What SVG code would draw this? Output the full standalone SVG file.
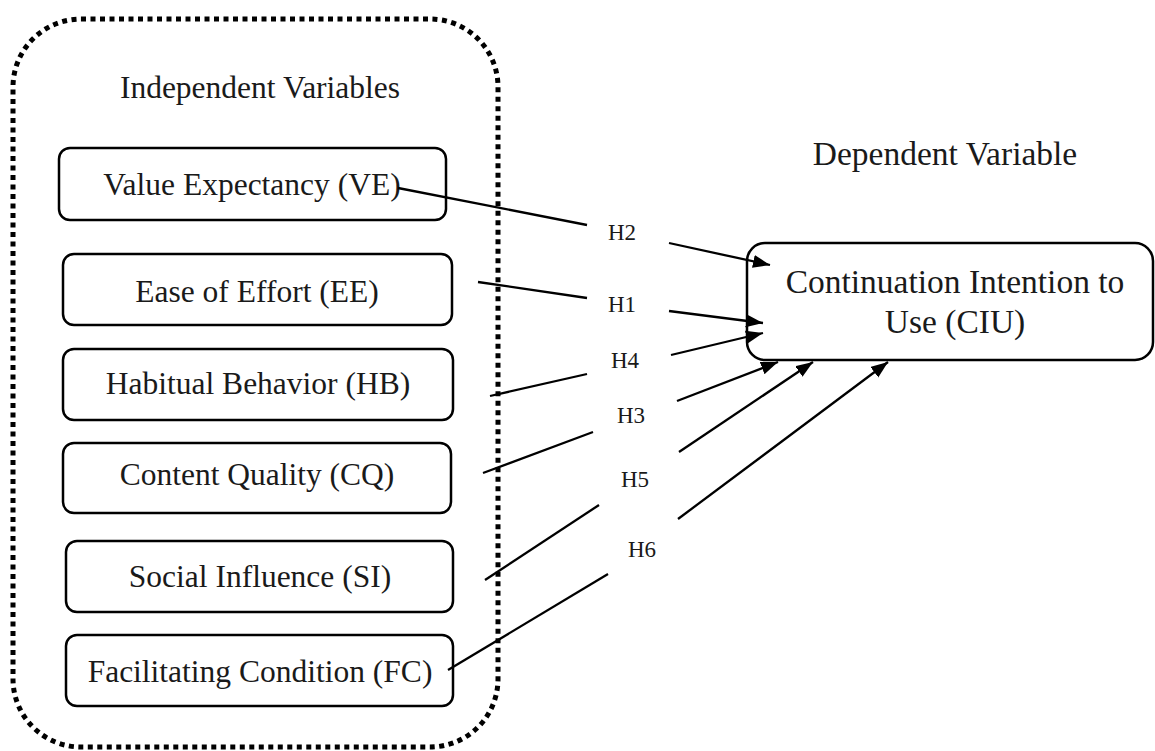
<svg xmlns="http://www.w3.org/2000/svg" width="1155" height="751" viewBox="0 0 1155 751">
<style>
.box{fill:#fff;stroke:#000;stroke-width:2.5}
text{font-family:'Liberation Serif','DejaVu Serif',serif;fill:#1a1a1a;text-anchor:middle}
.lbl{font-size:31.5px}
.big{font-size:33.5px}
.h{font-size:23px}
.con{stroke:#000;stroke-width:2.3;fill:none}
</style>
<defs>
<marker id="arr" markerUnits="userSpaceOnUse" markerWidth="18" markerHeight="14" refX="17" refY="6.5" orient="auto">
<path d="M0,0 L17,6.5 L0,13 z" fill="#000"/>
</marker>
</defs>
<g id="container">
<rect x="13" y="19" width="485" height="728" rx="68" ry="68" fill="none" stroke="#000" stroke-width="5" stroke-dasharray="5 4.5"/>
<text class="lbl" x="260" y="98">Independent Variables</text>
</g>
<g id="dep-title"><text class="big" x="945" y="165">Dependent Variable</text></g>
<g id="VE"><rect class="box" x="59" y="148" width="387" height="72" rx="11"/><text class="lbl" x="252" y="195">Value Expectancy (VE)</text></g>
<g id="EE"><rect class="box" x="63" y="254" width="389" height="71" rx="11"/><text class="lbl" x="257" y="302">Ease of Effort (EE)</text></g>
<g id="HB"><rect class="box" x="63" y="349" width="390" height="71" rx="11"/><text class="lbl" x="258" y="394">Habitual Behavior (HB)</text></g>
<g id="CQ"><rect class="box" x="63" y="443" width="388" height="70" rx="11"/><text class="lbl" x="257" y="485">Content Quality (CQ)</text></g>
<g id="SI"><rect class="box" x="66" y="541" width="387" height="71" rx="11"/><text class="lbl" x="260" y="587">Social Influence (SI)</text></g>
<g id="FC"><rect class="box" x="66" y="635" width="387" height="71" rx="11"/><text class="lbl" x="260" y="682">Facilitating Condition (FC)</text></g>
<g id="CIU"><rect class="box" x="747" y="243" width="406" height="117" rx="18"/><text class="big" x="955" y="293">Continuation Intention to</text><text class="big" x="955" y="333">Use (CIU)</text></g>
<g id="connectors">
<line class="con" x1="398" y1="188" x2="587" y2="225"/>
<line class="con" x1="669" y1="243" x2="770" y2="265" marker-end="url(#arr)"/>
<line class="con" x1="478" y1="282" x2="587" y2="298"/>
<line class="con" x1="669" y1="311" x2="763" y2="323" marker-end="url(#arr)"/>
<line class="con" x1="490" y1="396" x2="587" y2="374"/>
<line class="con" x1="671" y1="355" x2="763" y2="333" marker-end="url(#arr)"/>
<line class="con" x1="483" y1="473" x2="593" y2="432"/>
<line class="con" x1="677" y1="401" x2="778" y2="362" marker-end="url(#arr)"/>
<line class="con" x1="485" y1="580" x2="599" y2="505"/>
<line class="con" x1="679" y1="452" x2="813" y2="362" marker-end="url(#arr)"/>
<line class="con" x1="448" y1="670" x2="608" y2="574"/>
<line class="con" x1="678" y1="519" x2="888" y2="362" marker-end="url(#arr)"/>
<text class="h" x="622" y="240">H2</text>
<text class="h" x="622" y="312">H1</text>
<text class="h" x="625" y="368">H4</text>
<text class="h" x="631" y="423">H3</text>
<text class="h" x="635" y="487">H5</text>
<text class="h" x="642" y="557">H6</text>
</g>
</svg>
